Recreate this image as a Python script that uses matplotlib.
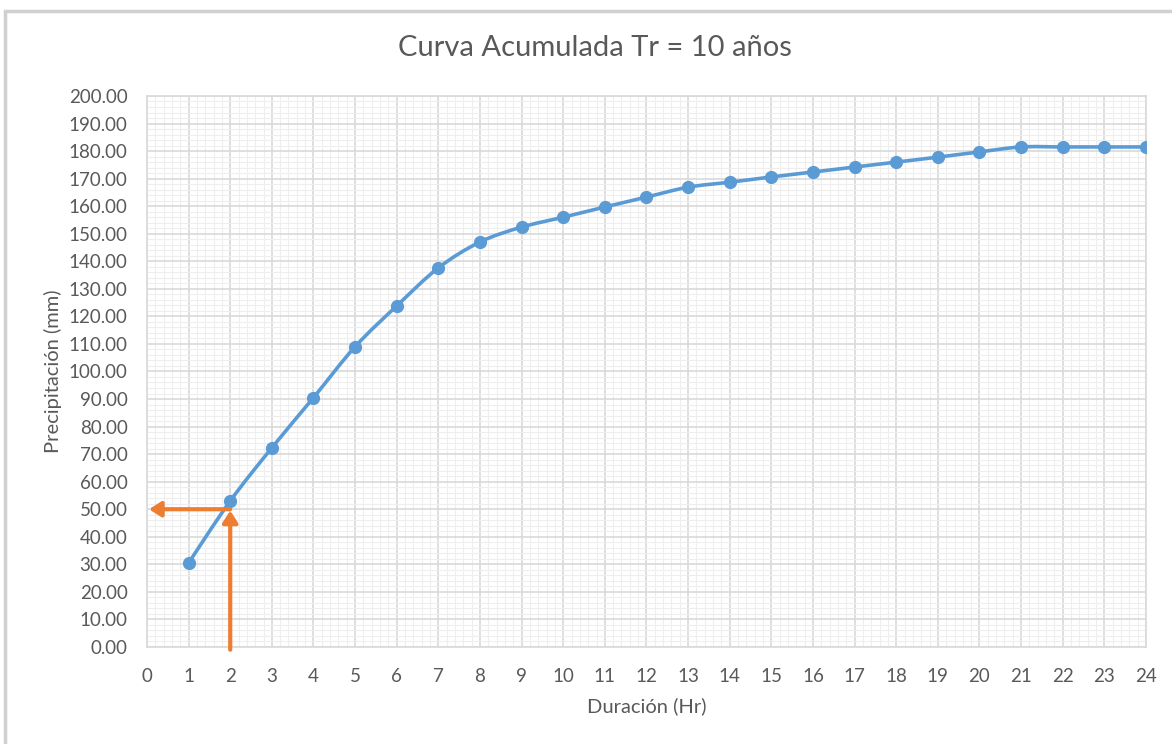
import numpy as np
import matplotlib.pyplot as plt
from matplotlib.path import Path
from matplotlib.patches import PathPatch, Rectangle, FancyArrowPatch

plt.rcParams['font.family'] = ['Lato', 'DejaVu Sans']

# Accumulated rainfall, Tr = 10 years
duracion = np.arange(1, 25)
precipitacion = [30.5, 53.0, 72.3, 90.5, 109.0, 123.8, 137.6, 147.0, 152.4, 156.0,
                 159.7, 163.3, 166.9, 168.7, 170.6, 172.4, 174.2, 176.0, 177.8, 179.7,
                 181.5, 181.5, 181.5, 181.5]

# Reading for 2 hours
lectura_x = 2
lectura_y = 50

azul = '#5B9BD5'
naranja = '#ED7D31'
gris = '#595959'

fig = plt.figure(figsize=(11.72, 7.44), dpi=100)
fig.patches.append(Rectangle((0.004, -0.01), 1.0, 0.995, transform=fig.transFigure,
                             fill=False, edgecolor='#d0d0d0', linewidth=2.5))

ax = fig.add_axes([0.1254, 0.1304, 0.8524, 0.7406])
ax.set_xlim(0, 24)
ax.set_ylim(0, 200)
ax.set_xticks(np.arange(0, 25, 1))
ax.set_yticks(np.arange(0, 201, 10))
ax.set_xticks(np.arange(0, 24.01, 0.2), minor=True)
ax.set_yticks(np.arange(0, 200.01, 2), minor=True)
ax.set_yticklabels([f'{v:.2f}' for v in np.arange(0, 201, 10)])
ax.grid(which='major', color='#d9d9d9', linewidth=1.2)
ax.grid(which='minor', color='#eeeeee', linewidth=0.8)
ax.tick_params(which='both', length=0, colors=gris, labelsize=13.5)
ax.tick_params(axis='x', pad=15)
ax.tick_params(axis='y', pad=14)
for s in ax.spines.values():
    s.set_color('#d9d9d9')
    s.set_linewidth(1.2)
ax.set_axisbelow(True)

# smoothed line through the points (cardinal spline as Bezier segments)
pts = np.column_stack([duracion, precipitacion]).astype(float)
verts = [pts[0]]
codes = [Path.MOVETO]
for i in range(len(pts) - 1):
    p0 = pts[i - 1] if i > 0 else pts[i]
    p1, p2 = pts[i], pts[i + 1]
    p3 = pts[i + 2] if i + 2 < len(pts) else pts[i + 1]
    c1 = p1 + (p2 - p0) / 6
    c2 = p2 - (p3 - p1) / 6
    verts += [c1, c2, p2]
    codes += [Path.CURVE4] * 3
ax.add_patch(PathPatch(Path(verts, codes), fill=False, edgecolor=azul, linewidth=2.6,
                       capstyle='round', zorder=3))
ax.plot(duracion, precipitacion, linestyle='none', marker='o', markersize=8.5,
        color=azul, zorder=4)

# orange arrows for the 2 hr reading
ax.add_patch(FancyArrowPatch((lectura_x, -1), (lectura_x, lectura_y - 0.5),
                             arrowstyle='-|>,head_length=7,head_width=4.5',
                             color=naranja, linewidth=3, zorder=5, clip_on=False,
                             shrinkA=0, shrinkB=0))
ax.add_patch(FancyArrowPatch((lectura_x, lectura_y), (0.05, lectura_y),
                             arrowstyle='-|>,head_length=7,head_width=4.5',
                             color=naranja, linewidth=3, zorder=5,
                             shrinkA=0, shrinkB=0))

fig.text(0.508, 0.935, 'Curva Acumulada Tr = 10 años', color=gris, fontsize=21,
         ha='center', va='center')
ax.set_xlabel('Duración (Hr)', color=gris, fontsize=14.5, labelpad=9)
ax.set_ylabel('Precipitación (mm)', color=gris, fontsize=14.5, labelpad=5)

fig.savefig('out.png', dpi=100)
